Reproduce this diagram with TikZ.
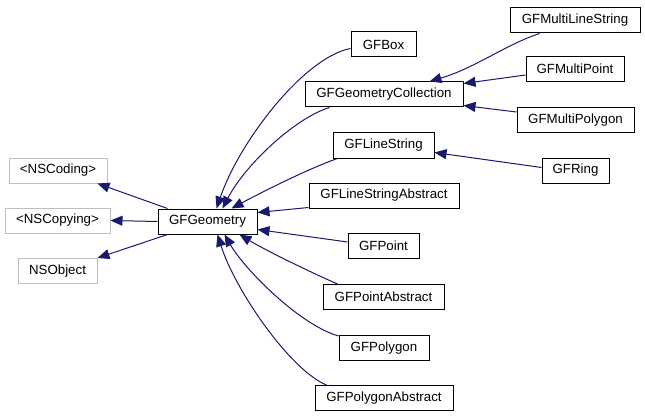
\documentclass[tikz,border=0pt]{standalone}
\usepackage{fontspec}
\setmainfont{Liberation Sans}
\usetikzlibrary{arrows.meta,calc}
\definecolor{edgeblue}{HTML}{191970}
\definecolor{graybox}{HTML}{BFBFBF}
\begin{document}
\begin{tikzpicture}[x=1pt,y=-1pt,
  cls/.style={draw=black,line width=1pt,fill=white,inner sep=0pt,minimum height=25pt,
    font=\fontsize{13.3}{16}\selectfont},
  ext/.style={cls,draw=graybox},
  edge/.style={draw=edgeblue,line width=1pt,-{Triangle[length=12pt,width=10pt]}}]
\useasboundingbox (0,0) rectangle (645,417);
% nodes
\node[ext,minimum width=98pt] (coding) at (58,170.5) {<NSCoding>};
\node[ext,minimum width=105pt] (copying) at (57.5,220.5) {<NSCopying>};
\node[ext,minimum width=79pt] (nsobj) at (57.5,271) {NSObject};
\node[cls,minimum width=99pt] (geo) at (207.5,221.5) {GFGeometry};
\node[cls,minimum width=130pt] (mls) at (575,20.5) {GFMultiLineString};
\node[cls,minimum width=65pt] (box) at (383.5,44.5) {GFBox};
\node[cls,minimum width=98pt] (mp) at (575,69) {GFMultiPoint};
\node[cls,minimum width=158pt] (coll) at (384,94.5) {GFGeometryCollection};
\node[cls,minimum width=117pt] (mpoly) at (575.5,120) {GFMultiPolygon};
\node[cls,minimum width=101pt] (ls) at (383.5,145.5) {GFLineString};
\node[cls,minimum width=67pt] (ring) at (575.5,170.5) {GFRing};
\node[cls,minimum width=150pt] (lsa) at (384,195.5) {GFLineStringAbstract};
\node[cls,minimum width=71pt] (point) at (383.5,246) {GFPoint};
\node[cls,minimum width=121pt] (pa) at (383.5,297) {GFPointAbstract};
\node[cls,minimum width=90pt] (poly) at (384,348) {GFPolygon};
\node[cls,minimum width=138pt] (pab) at (384,398) {GFPolygonAbstract};
% edges to GFGeometry
\draw[edge] ($(box.west)+(0,4)$) .. controls (305,57) and (240,140) .. ($(geo.north west)+(59,0)$);
\draw[edge] ($(coll.south west)+(25,0)$) .. controls (295,118) and (245,165) .. ($(geo.north west)+(65,0)$);
\draw[edge] ($(ls.south west)+(5,0)$) .. controls (310,168) and (262,192) .. ($(geo.north west)+(74,0)$);
\draw[edge] ($(lsa.south west)+(0,-1)$) -- ($(geo.north east)+(0,4)$);
\draw[edge] ($(point.west)+(0,-4)$) -- ($(geo.south east)+(0,-5)$);
\draw[edge] ($(pa.north west)+(15,0)$) .. controls (310,272) and (265,250) .. ($(geo.south west)+(82,0)$);
\draw[edge] ($(poly.north west)+(0,1)$) .. controls (300,325) and (245,270) .. ($(geo.south west)+(67,0)$);
\draw[edge] ($(pab.north west)+(12,0)$) .. controls (290,370) and (235,290) .. ($(geo.south west)+(60,0)$);
% edges to GFGeometryCollection
\draw[edge] ($(mls.south west)+(30,0)$) .. controls (505,45) and (475,68) .. ($(coll.north west)+(125,0)$);
\draw[edge] ($(mp.west)+(0,6)$) -- ($(coll.north east)+(0,2)$);
\draw[edge] ($(mpoly.west)+(0,-8)$) -- ($(coll.south east)+(0,-2)$);
% GFRing to GFLineString
\draw[edge] ($(ring.west)+(0,-3)$) -- ($(ls.east)+(0,7)$);
% GFGeometry to bases
\draw[edge] ($(geo.north west)+(10,0)$) -- ($(coding.south east)+(-10,0)$);
\draw[edge] (geo.west) -- (copying.east);
\draw[edge] ($(geo.south west)+(10,0)$) -- (nsobj.north east);
\end{tikzpicture}
\end{document}
